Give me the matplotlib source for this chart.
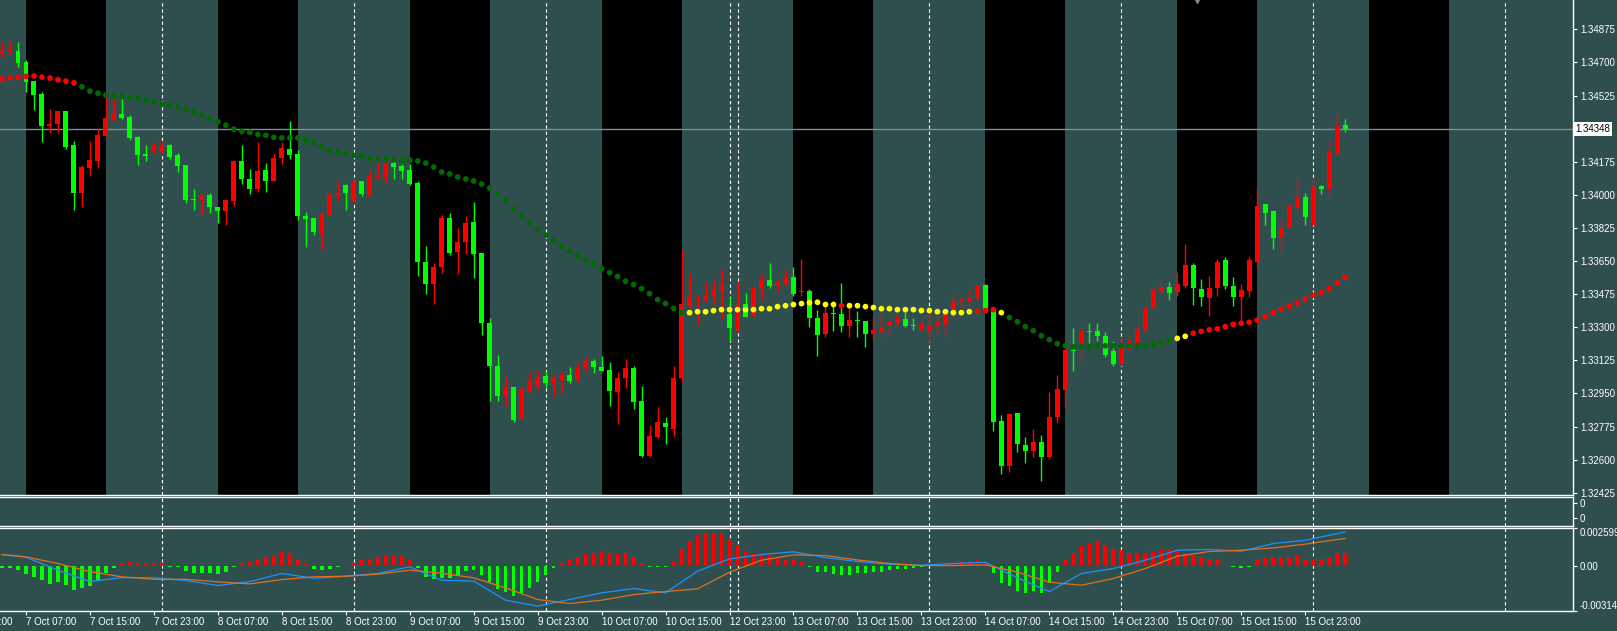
import numpy as np
import matplotlib.pyplot as plt

plt.rcParams['font.family'] = ['Liberation Sans', 'DejaVu Sans']
plt.rcParams['font.size'] = 7

# H1 bars, bar index 0 = 7 Oct 07:00, first visible bar has index -3
first_bar = -3

opens = [
    1.34742, 1.34757, 1.34760, 1.34702, 1.34601, 1.34532, 1.34363, 1.34372, 1.34442, 1.34262,
    1.34009, 1.34142, 1.34179, 1.34310, 1.34403, 1.34426, 1.34410, 1.34304, 1.34216, 1.34232,
    1.34225, 1.34262, 1.34209, 1.34156, 1.33979, 1.33971, 1.33997, 1.33933, 1.33914, 1.33967,
    1.34177, 1.34085, 1.34031, 1.34130, 1.34073, 1.34195, 1.34244, 1.34214, 1.33889, 1.33875,
    1.33797, 1.33891, 1.33993, 1.34050, 1.33971, 1.34071, 1.33997, 1.34094, 1.34094, 1.34167,
    1.34151, 1.34130, 1.34061, 1.33647, 1.33527, 1.33617, 1.33880, 1.33697, 1.33750, 1.33854,
    1.33690, 1.33324, 1.33096, 1.32937, 1.32985, 1.32823, 1.32960, 1.32990, 1.33043, 1.33003,
    1.33022, 1.33049, 1.33022, 1.33082, 1.33123, 1.33091, 1.33075, 1.32959, 1.33029, 1.33086,
    1.32911, 1.32620, 1.32720, 1.32794, 1.32764, 1.33029, 1.33413, 1.33448, 1.33444, 1.33464,
    1.33497, 1.33372, 1.33284, 1.33425, 1.33360, 1.33506, 1.33552, 1.33517, 1.33531, 1.33568,
    1.33485, 1.33494, 1.33351, 1.33262, 1.33377, 1.33372, 1.33308, 1.33340, 1.33335, 1.33266,
    1.33282, 1.33308, 1.33317, 1.33345, 1.33314, 1.33285, 1.33276, 1.33308, 1.33314, 1.33370,
    1.33434, 1.33437, 1.33453, 1.33525, 1.33388, 1.32805, 1.32567, 1.32847, 1.32678, 1.32646,
    1.32694, 1.32616, 1.32823, 1.32969, 1.33181, 1.33181, 1.33282, 1.33282, 1.33255, 1.33176,
    1.33107, 1.33185, 1.33215, 1.33285, 1.33402, 1.33488, 1.33515, 1.33488, 1.33520, 1.33631,
    1.33504, 1.33453, 1.33506, 1.33653, 1.33520, 1.33458, 1.33494, 1.33647, 1.33949, 1.33912,
    1.33771, 1.33828, 1.33928, 1.33987, 1.33843, 1.34045, 1.34029, 1.34220, 1.34368,
]
highs = [
    1.34806, 1.34815, 1.34810, 1.34712, 1.34601, 1.34545, 1.34453, 1.34442, 1.34442, 1.34283,
    1.34156, 1.34283, 1.34350, 1.34545, 1.34509, 1.34509, 1.34421, 1.34310, 1.34262, 1.34276,
    1.34283, 1.34269, 1.34220, 1.34156, 1.34032, 1.34004, 1.34008, 1.33933, 1.33976, 1.34177,
    1.34262, 1.34138, 1.34278, 1.34167, 1.34220, 1.34280, 1.34389, 1.34235, 1.33909, 1.33879,
    1.33896, 1.34009, 1.34068, 1.34055, 1.34080, 1.34071, 1.34133, 1.34172, 1.34172, 1.34174,
    1.34165, 1.34165, 1.34071, 1.33727, 1.33642, 1.33891, 1.33902, 1.33824, 1.33886, 1.33960,
    1.33690, 1.33347, 1.33155, 1.33038, 1.32985, 1.32985, 1.33063, 1.33073, 1.33066, 1.33043,
    1.33065, 1.33091, 1.33112, 1.33144, 1.33133, 1.33149, 1.33118, 1.33065, 1.33133, 1.33096,
    1.32990, 1.32784, 1.32879, 1.32826, 1.33096, 1.33709, 1.33579, 1.33471, 1.33541, 1.33550,
    1.33609, 1.33462, 1.33538, 1.33481, 1.33510, 1.33579, 1.33637, 1.33550, 1.33605, 1.33616,
    1.33663, 1.33503, 1.33393, 1.33405, 1.33441, 1.33533, 1.33405, 1.33388, 1.33335, 1.33356,
    1.33370, 1.33344, 1.33379, 1.33379, 1.33351, 1.33335, 1.33379, 1.33358, 1.33379, 1.33476,
    1.33458, 1.33504, 1.33525, 1.33528, 1.33397, 1.32837, 1.32847, 1.32847, 1.32720, 1.32763,
    1.32731, 1.32960, 1.33049, 1.33181, 1.33298, 1.33303, 1.33321, 1.33324, 1.33277, 1.33225,
    1.33247, 1.33254, 1.33314, 1.33411, 1.33515, 1.33538, 1.33541, 1.33594, 1.33741, 1.33642,
    1.33557, 1.33573, 1.33663, 1.33669, 1.33568, 1.33531, 1.33674, 1.34034, 1.33949, 1.33912,
    1.33870, 1.33939, 1.34082, 1.34008, 1.34087, 1.34050, 1.34289, 1.34426, 1.34400,
]
lows = [
    1.34730, 1.34744, 1.34677, 1.34545, 1.34447, 1.34280, 1.34327, 1.34327, 1.34241, 1.33919,
    1.33935, 1.34100, 1.34142, 1.34310, 1.34391, 1.34400, 1.34288, 1.34156, 1.34177, 1.34223,
    1.34223, 1.34191, 1.34121, 1.33958, 1.33918, 1.33896, 1.33903, 1.33851, 1.33843, 1.33940,
    1.34057, 1.34002, 1.34013, 1.34013, 1.34073, 1.34165, 1.34190, 1.33865, 1.33723, 1.33790,
    1.33711, 1.33891, 1.33965, 1.33918, 1.33956, 1.33993, 1.33993, 1.34080, 1.34062, 1.34082,
    1.34083, 1.34050, 1.33573, 1.33478, 1.33425, 1.33585, 1.33684, 1.33584, 1.33688, 1.33559,
    1.33261, 1.32911, 1.32911, 1.32884, 1.32800, 1.32814, 1.32955, 1.32967, 1.32985, 1.32934,
    1.32959, 1.33003, 1.33008, 1.33065, 1.33056, 1.33066, 1.32881, 1.32791, 1.32980, 1.32870,
    1.32616, 1.32616, 1.32713, 1.32685, 1.32726, 1.33012, 1.33402, 1.33317, 1.33432, 1.33423,
    1.33349, 1.33229, 1.33273, 1.33353, 1.33353, 1.33446, 1.33506, 1.33485, 1.33520, 1.33467,
    1.33467, 1.33300, 1.33149, 1.33247, 1.33282, 1.33273, 1.33250, 1.33250, 1.33197, 1.33232,
    1.33255, 1.33264, 1.33308, 1.33303, 1.33285, 1.33282, 1.33220, 1.33264, 1.33255, 1.33356,
    1.33388, 1.33414, 1.33437, 1.33388, 1.32752, 1.32526, 1.32535, 1.32641, 1.32584, 1.32616,
    1.32487, 1.32605, 1.32794, 1.32879, 1.33070, 1.33123, 1.33215, 1.33225, 1.33141, 1.33096,
    1.33096, 1.33172, 1.33202, 1.33264, 1.33391, 1.33476, 1.33446, 1.33467, 1.33506, 1.33420,
    1.33414, 1.33361, 1.33467, 1.33501, 1.33411, 1.33331, 1.33462, 1.33623, 1.33843, 1.33711,
    1.33700, 1.33822, 1.33918, 1.33843, 1.33843, 1.34002, 1.33995, 1.34216, 1.34333,
]
closes = [
    1.34760, 1.34767, 1.34698, 1.34598, 1.34527, 1.34364, 1.34373, 1.34442, 1.34253, 1.34009,
    1.34145, 1.34183, 1.34315, 1.34405, 1.34432, 1.34407, 1.34301, 1.34211, 1.34206, 1.34265,
    1.34257, 1.34198, 1.34152, 1.33971, 1.33971, 1.33997, 1.33935, 1.33914, 1.33971, 1.34177,
    1.34084, 1.34031, 1.34128, 1.34073, 1.34193, 1.34250, 1.34211, 1.33886, 1.33872, 1.33801,
    1.33896, 1.34004, 1.34008, 1.34009, 1.34068, 1.34002, 1.34101, 1.34105, 1.34163, 1.34147,
    1.34126, 1.34055, 1.33644, 1.33527, 1.33621, 1.33877, 1.33695, 1.33753, 1.33849, 1.33686,
    1.33321, 1.33093, 1.32937, 1.32985, 1.32808, 1.32967, 1.33017, 1.33035, 1.33003, 1.33035,
    1.33052, 1.33017, 1.33084, 1.33123, 1.33088, 1.33066, 1.32964, 1.33033, 1.33086, 1.32906,
    1.32620, 1.32726, 1.32800, 1.32773, 1.33033, 1.33423, 1.33453, 1.33455, 1.33467, 1.33504,
    1.33520, 1.33298, 1.33420, 1.33353, 1.33510, 1.33550, 1.33520, 1.33538, 1.33568, 1.33478,
    1.33490, 1.33347, 1.33261, 1.33377, 1.33368, 1.33308, 1.33338, 1.33331, 1.33266, 1.33287,
    1.33303, 1.33326, 1.33347, 1.33308, 1.33306, 1.33317, 1.33314, 1.33328, 1.33370, 1.33441,
    1.33442, 1.33458, 1.33525, 1.33388, 1.32800, 1.32567, 1.32842, 1.32680, 1.32646, 1.32694,
    1.32616, 1.32828, 1.32974, 1.33181, 1.33176, 1.33282, 1.33277, 1.33255, 1.33155, 1.33107,
    1.33197, 1.33225, 1.33292, 1.33402, 1.33497, 1.33515, 1.33483, 1.33531, 1.33631, 1.33506,
    1.33458, 1.33510, 1.33647, 1.33517, 1.33458, 1.33499, 1.33653, 1.33939, 1.33902, 1.33771,
    1.33828, 1.33939, 1.33987, 1.33881, 1.34038, 1.34031, 1.34227, 1.34363, 1.34349,
]

# dotted moving average and its trend state per bar
ma_values = [
    1.34612, 1.34619, 1.34622, 1.34626, 1.34628, 1.34622, 1.34617, 1.34608, 1.34601, 1.34592,
    1.34571, 1.34548, 1.34537, 1.34527, 1.34523, 1.34522, 1.34516, 1.34511, 1.34500, 1.34492,
    1.34479, 1.34474, 1.34463, 1.34453, 1.34437, 1.34421, 1.34402, 1.34386, 1.34368, 1.34347,
    1.34336, 1.34331, 1.34320, 1.34315, 1.34304, 1.34301, 1.34301, 1.34301, 1.34288, 1.34274,
    1.34253, 1.34235, 1.34225, 1.34220, 1.34209, 1.34204, 1.34193, 1.34190, 1.34190, 1.34188,
    1.34184, 1.34184, 1.34179, 1.34168, 1.34147, 1.34121, 1.34110, 1.34094, 1.34084, 1.34073,
    1.34057, 1.34036, 1.34004, 1.33969, 1.33925, 1.33888, 1.33850, 1.33819, 1.33787, 1.33759,
    1.33727, 1.33702, 1.33674, 1.33653, 1.33632, 1.33610, 1.33589, 1.33568, 1.33543, 1.33526,
    1.33504, 1.33478, 1.33446, 1.33425, 1.33400, 1.33377, 1.33377, 1.33382, 1.33382, 1.33388,
    1.33393, 1.33393, 1.33393, 1.33393, 1.33393, 1.33398, 1.33398, 1.33409, 1.33414, 1.33420,
    1.33425, 1.33430, 1.33432, 1.33420, 1.33420, 1.33414, 1.33414, 1.33414, 1.33409, 1.33404,
    1.33398, 1.33398, 1.33393, 1.33393, 1.33393, 1.33388, 1.33388, 1.33382, 1.33382, 1.33377,
    1.33377, 1.33382, 1.33384, 1.33388, 1.33393, 1.33377, 1.33351, 1.33329, 1.33303, 1.33282,
    1.33255, 1.33234, 1.33213, 1.33202, 1.33197, 1.33197, 1.33197, 1.33202, 1.33202, 1.33202,
    1.33202, 1.33202, 1.33202, 1.33202, 1.33209, 1.33218, 1.33229, 1.33241, 1.33252, 1.33268,
    1.33278, 1.33287, 1.33292, 1.33303, 1.33315, 1.33321, 1.33326, 1.33337, 1.33358, 1.33377,
    1.33395, 1.33411, 1.33427, 1.33448, 1.33469, 1.33483, 1.33504, 1.33533, 1.33564,
]
ma_trend_runs = [("up", 10), ("down", 76), ("flat", 19), ("up", 1), ("flat", 16),
                 ("up", 3), ("flat", 1), ("down", 21), ("flat", 2), ("up", 20)]

# lower window: histogram per bar, two lines read every few bars
hist = [
    -0.00014, -0.00018, -0.00030, -0.00058, -0.00078, -0.00102, -0.00129, -0.00115, -0.00134, -0.00168,
    -0.00157, -0.00141, -0.00099, -0.00053, -0.00018, 0.00016, 0.00030, 0.00016, 0.00016, 0.00016,
    0.00016, -0.00007, -0.00007, -0.00037, -0.00051, -0.00051, -0.00051, -0.00058, -0.00042, -0.00007,
    0.00018, 0.00030, 0.00048, 0.00060, 0.00072, 0.00092, 0.00090, 0.00044, 0.00012, -0.00025,
    -0.00030, -0.00025, -0.00009, 0.00007, 0.00021, 0.00039, 0.00048, 0.00062, 0.00072, 0.00072,
    0.00072, 0.00048, -0.00018, -0.00076, -0.00095, -0.00088, -0.00083, -0.00067, -0.00037, -0.00030,
    -0.00067, -0.00113, -0.00159, -0.00182, -0.00210, -0.00191, -0.00157, -0.00113, -0.00067, -0.00018,
    0.00016, 0.00044, 0.00062, 0.00078, 0.00090, 0.00102, 0.00090, 0.00078, 0.00085, 0.00062,
    0.00016, -0.00009, -0.00009, -0.00009, 0.00030, 0.00113, 0.00171, 0.00210, 0.00228, 0.00228,
    0.00228, 0.00182, 0.00141, 0.00099, 0.00078, 0.00078, 0.00078, 0.00062, 0.00039, 0.00039,
    0.00025, -0.00007, -0.00044, -0.00048, -0.00060, -0.00067, -0.00062, -0.00053, -0.00053, -0.00048,
    -0.00042, -0.00032, -0.00025, -0.00021, -0.00018, -0.00009, -0.00005, 0.00007, 0.00016, 0.00021,
    0.00030, 0.00030, 0.00039, 0.00016, -0.00053, -0.00118, -0.00141, -0.00175, -0.00191, -0.00175,
    -0.00187, -0.00118, -0.00044, 0.00039, 0.00090, 0.00136, 0.00159, 0.00171, 0.00141, 0.00113,
    0.00108, 0.00085, 0.00078, 0.00090, 0.00102, 0.00106, 0.00108, 0.00102, 0.00085, 0.00067,
    0.00062, 0.00048, 0.00044, 0.00007, -0.00009, -0.00018, -0.00007, 0.00048, 0.00062, 0.00062,
    0.00058, 0.00062, 0.00072, 0.00048, 0.00048, 0.00048, 0.00058, 0.00085, 0.00090,
]
line_idx = [-3, 0, 4, 8, 12, 16, 20, 24, 28, 32, 36, 40, 44, 48, 52, 56, 60, 64, 68, 72,
            76, 80, 84, 88, 92, 96, 100, 104, 108, 112, 116, 120, 124, 128, 132, 136, 140,
            144, 148, 152, 156, 160, 164, 165]
line_main = [0.00076, 0.00058, -0.00032, -0.00111, -0.00083, -0.00085, -0.00104, -0.00138,
             -0.00111, -0.00055, -0.00088, -0.00074, -0.00055, -0.00009, -0.00102, -0.00108,
             -0.00240, -0.00281, -0.00235, -0.00189, -0.00159, -0.00189, -0.00039, 0.00046,
             0.00076, 0.00095, 0.00055, 0.00028, 0.00009, 0.00002, 0.00014, 0.00023, -0.00085,
             -0.00180, -0.00055, -0.00021, 0.00037, 0.00106, 0.00111, 0.00099, 0.00152, 0.00175,
             0.00221, 0.00233]
line_signal = [0.00076, 0.00060, 0.00014, -0.00042, -0.00078, -0.00095, -0.00095, -0.00113,
               -0.00127, -0.00097, -0.00078, -0.00074, -0.00060, -0.00032, -0.00053, -0.00085,
               -0.00155, -0.00235, -0.00263, -0.00240, -0.00201, -0.00180, -0.00161, -0.00046,
               0.00037, 0.00074, 0.00069, 0.00039, 0.00014, 0.0, 0.0, 0.00005, -0.00046,
               -0.00115, -0.00136, -0.00090, -0.00021, 0.00065, 0.00097, 0.00106, 0.00122,
               0.00148, 0.00180, 0.00187]
osc_max, osc_min = 0.002599, -0.003146

time_idx = list(range(-8, 161, 8))
time_labels = ["6 Oct 23:00", "7 Oct 07:00", "7 Oct 15:00", "7 Oct 23:00", "8 Oct 07:00",
               "8 Oct 15:00", "8 Oct 23:00", "9 Oct 07:00", "9 Oct 15:00", "9 Oct 23:00",
               "10 Oct 07:00", "10 Oct 15:00", "12 Oct 23:00", "13 Oct 07:00", "13 Oct 15:00",
               "13 Oct 23:00", "14 Oct 07:00", "14 Oct 15:00", "14 Oct 23:00", "15 Oct 07:00",
               "15 Oct 15:00", "15 Oct 23:00"]
day_start_idx = [17, 41, 65, 88, 89, 113, 137, 161, 185]
session_idx = [(0, 10), (24, 34), (48, 58), (72, 82), (96, 106), (120, 130), (144, 154), (168, 178)]
price_ticks = [1.34875 - 0.00175 * k for k in range(15)]
last_price = 1.34348

BG = '#2F4F4F'
BULL, BEAR = '#FF0000', '#00FF00'
trend_colors = {"up": '#FF0000', "down": '#006C00', "flat": '#FFFF00'}

W, H = 1617, 631
XLIM = (-3.25, 193.5)


def box(x0, y0, x1, y1):
    return [x0 / W, 1 - y1 / H, (x1 - x0) / W, (y1 - y0) / H]


fig = plt.figure(figsize=(W / 100, H / 100), dpi=100, facecolor=BG)
ax = fig.add_axes(box(0, 0, 1573, 495))
ax_mid = fig.add_axes(box(0, 497, 1573, 526))
ax_osc = fig.add_axes(box(0, 528, 1573, 611))
panels = (ax, ax_mid, ax_osc)

for a in panels:
    a.set_facecolor(BG)
    for s in a.spines.values():
        s.set_color('white')
        s.set_linewidth(1)
    a.spines['left'].set_visible(False)
    a.yaxis.tick_right()
    a.tick_params(axis='y', colors='white', length=3, width=0.8, pad=2, labelsize=7)
    for d in day_start_idx:
        a.axvline(d, color='white', lw=0.8, ls=(0, (3, 2.5)), zorder=1)
ax.spines['top'].set_visible(False)

# session shading
for s0, s1 in session_idx:
    ax.axvspan(s0, s1, color='black', lw=0, zorder=0)

# candles (red = rising bar, green = falling bar)
x = np.arange(first_bar, first_bar + len(opens))
o, h, l, c = map(np.array, (opens, highs, lows, closes))
col = np.where(c >= o, BULL, BEAR)
ax.vlines(x, l, h, colors=col, lw=1, zorder=2)
body = np.maximum(np.abs(c - o), 0.00004)
ax.bar(x, body, bottom=np.minimum(o, c), width=0.62, color=col, lw=0, zorder=3)

# trend dots
trend = [t for t, n in ma_trend_runs for _ in range(n)]
ax.scatter(x, ma_values, s=17, c=[trend_colors[t] for t in trend], lw=0, zorder=4)

ax.axhline(last_price, color='#7F8C9A', lw=1, zorder=1)
ax.text(1.0015, last_price, f"{last_price:.5f}", transform=ax.get_yaxis_transform(),
        va='center', ha='left', fontsize=7, color='black',
        bbox=dict(facecolor='white', edgecolor='none', pad=1.2))
ax.plot([146.5], [1.3503], marker='v', ms=4, color='#7F8C9A', clip_on=False, zorder=5)

ax.set_ylim(1.32413, 1.35030)
ax.set_yticks(price_ticks)
# the tick label under the price tag is hidden
ax.set_yticklabels(["" if abs(p - last_price) < 0.0001 else f"{p:.5f}" for p in price_ticks])
ax.set_xticks([])

# empty middle window
ax_mid.set_ylim(0, 1)
ax_mid.set_yticks([0.79, 0.28])
ax_mid.set_yticklabels(["0", "0"])
ax_mid.set_xticks([])

# oscillator window
hist_col = np.where(np.array(hist) >= 0, BULL, BEAR)
ax_osc.bar(x, hist, width=0.45, color=hist_col, lw=0, zorder=2)
ax_osc.plot(line_idx, line_main, color='#1E90FF', lw=0.9, zorder=3)
ax_osc.plot(line_idx, line_signal, color='#E0701E', lw=0.9, zorder=3)
ax_osc.set_ylim(osc_min, osc_max)
ax_osc.set_yticks([osc_max, 0.0, osc_min])
ax_osc.set_yticklabels([f"{osc_max:.6f}", "0.00", f"{osc_min:.6f}"])
lbls = ax_osc.get_yticklabels()
lbls[0].set_va('top')
lbls[-1].set_va('bottom')

# time axis: ticks inside the view, the partly hidden first label drawn by hand
inside = [(i, t) for i, t in zip(time_idx, time_labels) if i >= XLIM[0]]
ax_osc.set_xticks([i for i, _ in inside])
ax_osc.set_xticklabels([t for _, t in inside], ha='left')
ax_osc.tick_params(axis='x', colors='white', length=3, width=0.8, pad=1.5, labelsize=7)
for i, t in zip(time_idx, time_labels):
    if i < XLIM[0]:
        ax_osc.annotate(t, xy=(i, 0), xycoords=ax_osc.get_xaxis_transform(),
                        xytext=(0, -4.5), textcoords='offset points', ha='left', va='top',
                        color='white', fontsize=7, annotation_clip=False)

for a in panels:
    a.set_xlim(*XLIM)

fig.savefig('out.png', dpi=100, facecolor=BG)
